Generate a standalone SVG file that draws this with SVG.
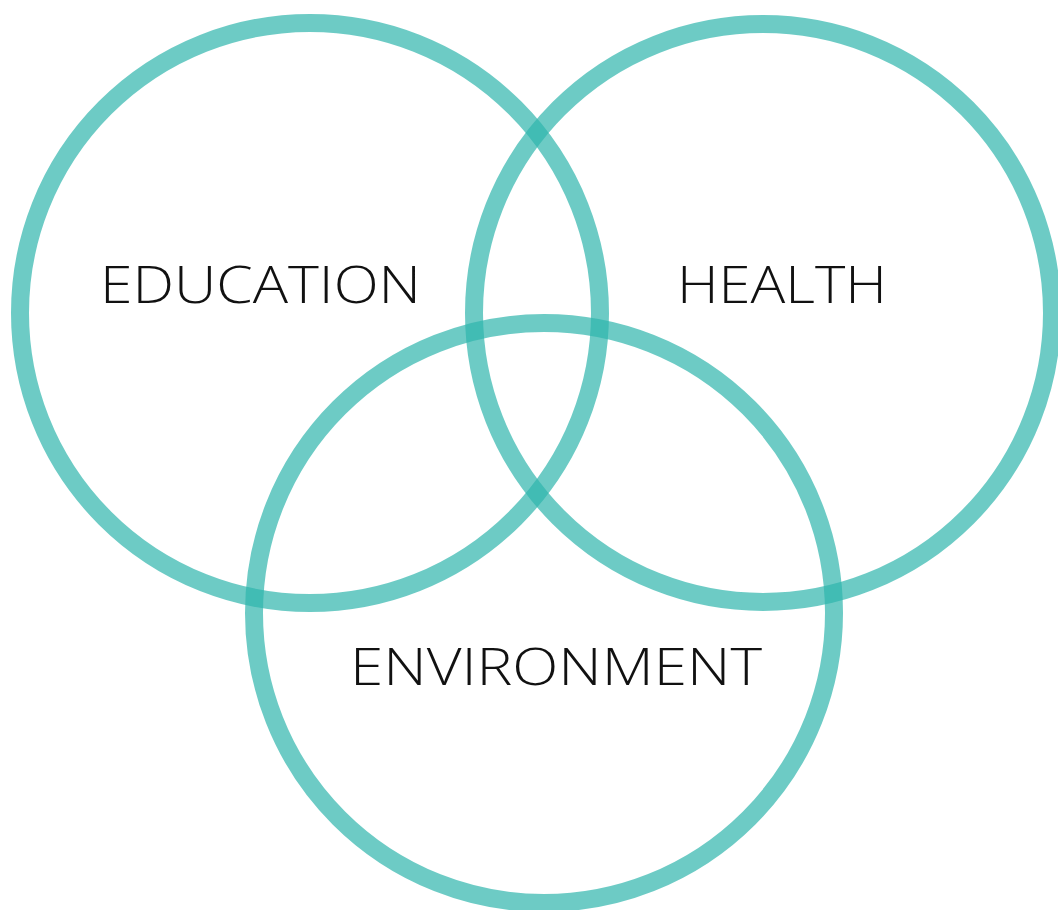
<svg xmlns="http://www.w3.org/2000/svg" width="1058" height="910" viewBox="0 0 1058 910">
<style>
.ring{fill:none;stroke:#2fb5ac;stroke-opacity:0.7;stroke-width:18}
.lbl{font-family:"Open Sans","Liberation Sans",sans-serif;font-size:52px;fill:#111;font-weight:300}
</style>
<rect width="1058" height="910" fill="#fff"/>
<g id="education">
<circle class="ring" cx="310" cy="313" r="290"/>
<text class="lbl" x="100" y="303" textLength="321" lengthAdjust="spacingAndGlyphs">EDUCATION</text>
</g>
<g id="health">
<circle class="ring" cx="763" cy="313" r="289"/>
<text class="lbl" x="677" y="303" textLength="210" lengthAdjust="spacingAndGlyphs">HEALTH</text>
</g>
<g id="environment">
<circle class="ring" cx="544" cy="613" r="290"/>
<text class="lbl" x="350" y="685" textLength="412" lengthAdjust="spacingAndGlyphs">ENVIRONMENT</text>
</g>
<g id="connectors"/>
</svg>
